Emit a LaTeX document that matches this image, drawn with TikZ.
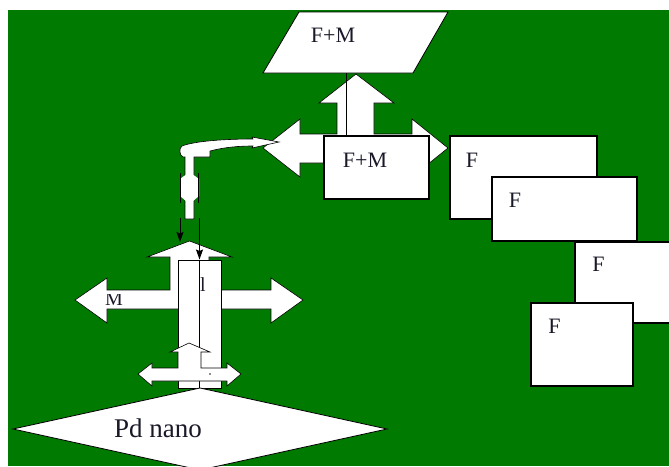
\documentclass[tikz,border=0pt]{standalone}
\usepackage{fontspec}
\setmainfont{Liberation Serif}
\usetikzlibrary{arrows.meta}
\definecolor{bggreen}{RGB}{0,122,0}
\definecolor{txt}{RGB}{25,25,40}
\begin{document}
\begin{tikzpicture}[x=1pt,y=-1pt,
  box/.style={draw=black,line width=1.3pt,fill=white,rectangle,inner sep=0pt},
  arr/.style={fill=white,draw=black,line width=0.6pt,line join=miter},
  lab/.style={font=\fontsize{22}{26}\selectfont,text=txt,inner sep=0pt},
  conn/.style={draw=black,line width=0.9pt},
  tipd/.style={-{Stealth[length=10pt,width=7pt,inset=1.5pt]}}
]
\useasboundingbox (0,0) rectangle (669,466);
\clip (0,0) rectangle (669,466);
\fill[bggreen] (8,10) rectangle (669,466);

% parallelogram
\draw[fill=white,line width=0.8pt] (299,12) -- (448,12) -- (413,73) -- (263,73) -- cycle;
\node[lab] (pfm) at (333,35.5) {F+M};
\coordinate (pbot) at (346,73);

% top left-right-up arrow
\draw[arr] (263,148) -- (300,119) -- (300,134) -- (337,134) -- (337,103) -- (319,103)
  -- (356,74) -- (394,103) -- (374,103) -- (374,134) -- (412,134) -- (412,119)
  -- (448,148) -- (412,177) -- (412,163) -- (300,163) -- (300,177) -- cycle;

% F+M box
\node[box,minimum width=105pt,minimum height=63pt] (fmbox) at (376.5,167.5) {};
\node[lab] (fmlab) at (365,160.5) {F+M};
\draw[conn] (pbot) -- (pbot |- fmbox.north);

% F boxes
\node[box,minimum width=147pt,minimum height=83pt] (f1) at (523.5,177.5) {};
\node[lab] (f1l) at (472,160) {F};
\node[box,minimum width=145pt,minimum height=64pt] (f2) at (564.5,209) {};
\node[lab] (f2l) at (515,200.5) {F};
\node[box,minimum width=145pt,minimum height=81pt] (f3) at (647.5,282.5) {};
\node[lab] (f3l) at (598.5,264.5) {F};
\node[box,minimum width=102pt,minimum height=83pt] (f4) at (582,344.5) {};
\node[lab] (f4l) at (554.5,326.5) {F};

% curved arrow with vertical stem
\draw[arr] (185,219) -- (185,157) -- (183,157) .. controls (179,155) and (179,148) .. (182,146)
  .. controls (195,141) and (225,139) .. (253,139) -- (252,137) -- (279,142) -- (252,148)
  -- (253,146) .. controls (240,146) and (225,147) .. (210,151) -- (210,157) -- (194,157)
  -- (194,219) -- cycle;
\fill[white] (189.5,172) -- (199,179) -- (199,196) -- (189.5,204) -- (180,196) -- (180,179) -- cycle;
\draw[line width=0.6pt] (180.5,173) -- (180.5,203) (198.5,173) -- (198.5,203);

% big cross arrow
\draw[arr] (75,300) -- (107,278) -- (107,290) -- (170,290) -- (170,257) -- (147,257)
  -- (189.5,241) -- (232,257) -- (209,257) -- (209,290) -- (271,290) -- (271,278)
  -- (303,300) -- (271,323) -- (271,309) -- (107,309) -- (107,323) -- cycle;
\begin{scope}
  \clip (95,294) rectangle (135,312);
  \node[font=\fontsize{20}{24}\selectfont,text=txt,inner sep=0pt] (mlab) at (114,298.5) {M};
\end{scope}

% tall box
\node[box,line width=1pt,minimum width=43pt,minimum height=128pt] (tall) at (199.5,324) {};
\draw[conn] (tall.north) -- (tall.south);
\node[font=\fontsize{20}{24}\selectfont,text=txt,inner sep=0pt] (llab) at (203,285) {l};

% black arrows
\coordinate (a1) at (180,218);
\coordinate (a2) at (180,242);
\draw[conn,tipd] (a1) -- (a2);
\coordinate (b1) at (199.5,218);
\draw[conn,tipd] (b1) -- (b1 |- tall.north);

% small up-left-right arrow
\draw[arr] (138,374) -- (152,363) -- (152,368) -- (178,368) -- (178,352) -- (170,352)
  -- (189,343) -- (210,352) -- (201,352) -- (201,368) -- (227,368) -- (227,363)
  -- (241,374) -- (227,386) -- (227,381) -- (152,381) -- (152,386) -- cycle;
\fill[txt] (210,374) circle (0.9);

% diamond
\draw[fill=white,line width=0.8pt] (200,388) -- (387,429) -- (200,470) -- (13,429) -- cycle;
\node[font=\fontsize{27}{32}\selectfont,text=txt,inner sep=0pt] (pd) at (158,428) {Pd nano};
\end{tikzpicture}
\end{document}
